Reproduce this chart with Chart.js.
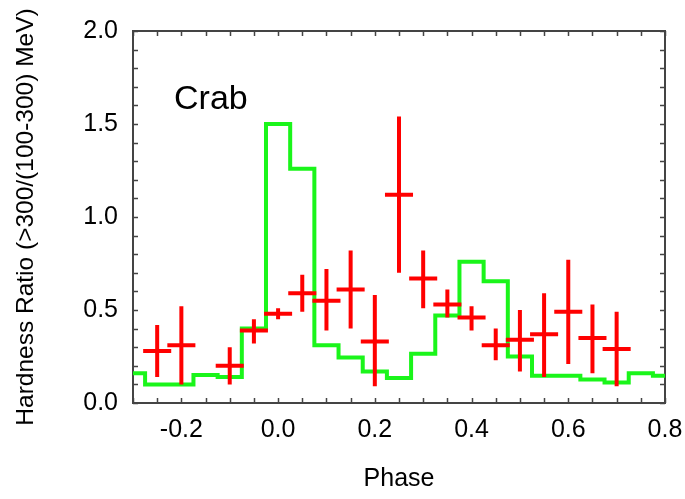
<!DOCTYPE html>
<html>
<head>
<meta charset="utf-8">
<script src="https://cdn.jsdelivr.net/npm/chart.js@4/dist/chart.umd.min.js"></script>
<style>
  html, body { margin: 0; padding: 0; background: #fff; }
  #wrap { width: 685px; height: 499px; }
</style>
</head>
<body>
<div id="wrap"><canvas id="hardnessChart" width="685" height="499"></canvas></div>
<script>
// green histogram: bin centres (0.05 wide bins) and ratio
const binPhase = [-0.30, -0.25, -0.20, -0.15, -0.10, -0.05, 0.00, 0.05, 0.10, 0.15, 0.20, 0.25,
                  0.30, 0.35, 0.40, 0.45, 0.50, 0.55, 0.60, 0.65, 0.70, 0.75, 0.80];
const binRatio = [0.16, 0.10, 0.10, 0.15, 0.14, 0.40, 1.50, 1.26, 0.31, 0.245, 0.17, 0.135,
                  0.265, 0.47, 0.76, 0.655, 0.25, 0.147, 0.147, 0.127, 0.11, 0.16, 0.147];

// red points with error bars
const pointPhase = [-0.25, -0.20, -0.10, -0.05, 0.00, 0.05, 0.10, 0.15, 0.20, 0.25,
                    0.30, 0.35, 0.40, 0.45, 0.50, 0.55, 0.60, 0.65, 0.70];
const pointRatio = [0.28, 0.31, 0.20, 0.39, 0.48, 0.59, 0.55, 0.61, 0.33, 1.12,
                    0.67, 0.53, 0.46, 0.31, 0.34, 0.37, 0.49, 0.35, 0.29];
const pointLow   = [0.14, 0.10, 0.10, 0.32, 0.45, 0.49, 0.39, 0.40, 0.09, 0.70,
                    0.51, 0.46, 0.39, 0.23, 0.17, 0.14, 0.21, 0.16, 0.09];
const pointHigh  = [0.42, 0.52, 0.30, 0.45, 0.51, 0.69, 0.72, 0.82, 0.58, 1.54,
                    0.82, 0.61, 0.52, 0.40, 0.50, 0.59, 0.77, 0.53, 0.49];
const phaseHalfWidth = 0.029;

const xTickLabels = [-0.2, 0.0, 0.2, 0.4, 0.6, 0.8];
const yTickLabels = [0.0, 0.5, 1.0, 1.5, 2.0];

const RED = "#ff0000";
const GREEN = "#1af51a";

Chart.defaults.font.family = "'Liberation Sans', Arial, sans-serif";
Chart.defaults.font.size = 25;
Chart.defaults.color = "#000";

// error bar segments, split by null points
const vertBars = [];
const horizBars = [];
pointPhase.forEach((p, i) => {
    vertBars.push({ x: p, y: pointLow[i] }, { x: p, y: pointHigh[i] }, { x: p, y: null });
    horizBars.push({ x: p - phaseHalfWidth, y: pointRatio[i] },
                   { x: p + phaseHalfWidth, y: pointRatio[i] },
                   { x: p + phaseHalfWidth, y: null });
});

const hasLabel = (list, v) => list.some(t => Math.abs(t - v) < 1e-6);

// box frame, inward ticks and the "Crab" label
const frameTicks = {
    id: "frameTicks",
    beforeDatasetsDraw(chart) {
        const { ctx, chartArea: a, scales: { x, y } } = chart;
        ctx.save();
        ctx.strokeStyle = "#444";
        ctx.lineWidth = 1.5;
        ctx.beginPath();
        x.ticks.forEach(t => {
            const px = Math.round(x.getPixelForValue(t.value)) + 0.5;
            ctx.moveTo(px, a.bottom); ctx.lineTo(px, a.bottom - 5);
            ctx.moveTo(px, a.top); ctx.lineTo(px, a.top + 5);
        });
        y.ticks.forEach(t => {
            const py = Math.round(y.getPixelForValue(t.value)) + 0.5;
            ctx.moveTo(a.left, py); ctx.lineTo(a.left + 5, py);
            ctx.moveTo(a.right, py); ctx.lineTo(a.right - 5, py);
        });
        ctx.stroke();
        ctx.lineWidth = 2;
        ctx.strokeRect(a.left, a.top, a.right - a.left, a.bottom - a.top);

        ctx.fillStyle = "#000";
        ctx.font = "34px 'Liberation Sans', Arial, sans-serif";
        ctx.textBaseline = "alphabetic";
        ctx.textAlign = "left";
        ctx.fillText("Crab", a.left + 41, a.top + 78);
        ctx.restore();
    }
};

const ctx = document.getElementById("hardnessChart").getContext("2d");
new Chart(ctx, {
    type: "line",
    data: {
        datasets: [
            {
                label: "vertical errors",
                data: vertBars,
                borderColor: RED,
                borderWidth: 4,
                borderCapStyle: "butt",
                pointRadius: 0,
                spanGaps: false,
                order: 1
            },
            {
                label: "horizontal errors",
                data: horizBars,
                borderColor: RED,
                borderWidth: 4,
                borderCapStyle: "butt",
                pointRadius: 0,
                spanGaps: false,
                order: 1
            },
            {
                label: "histogram",
                data: binPhase.map((p, i) => ({ x: p, y: binRatio[i] })),
                borderColor: GREEN,
                borderWidth: 4,
                stepped: "middle",
                pointRadius: 0,
                order: 2
            }
        ]
    },
    options: {
        responsive: false,
        animation: false,
        layout: { padding: { left: 0, right: 20, top: 31, bottom: 0 } },
        plugins: { legend: { display: false }, tooltip: { enabled: false } },
        scales: {
            x: {
                type: "linear",
                min: -0.3,
                max: 0.8,
                grid: { display: false, drawTicks: false },
                border: { display: false },
                ticks: {
                    stepSize: 0.05,
                    autoSkip: false,
                    maxRotation: 0,
                    padding: 12,
                    callback: v => hasLabel(xTickLabels, v) ? v.toFixed(1) : ""
                },
                title: { display: true, text: "Phase", padding: { top: 0, bottom: 5 } },
                afterFit: s => { s.height = 96; s.paddingRight = 0; s.paddingLeft = 0; }
            },
            y: {
                min: 0,
                max: 2,
                grid: { display: false, drawTicks: false },
                border: { display: false },
                ticks: {
                    stepSize: 0.1,
                    autoSkip: false,
                    padding: 15,
                    callback: v => hasLabel(yTickLabels, v) ? v.toFixed(1) : ""
                },
                title: {
                    display: true,
                    text: "Hardness Ratio (>300/(100-300) MeV)",
                    font: { size: 24.5 },
                    padding: { top: 12, bottom: 0 }
                },
                afterFit: s => { s.width = 133; s.paddingTop = 0; s.paddingBottom = 0; }
            }
        }
    },
    plugins: [frameTicks]
});
</script>
</body>
</html>
